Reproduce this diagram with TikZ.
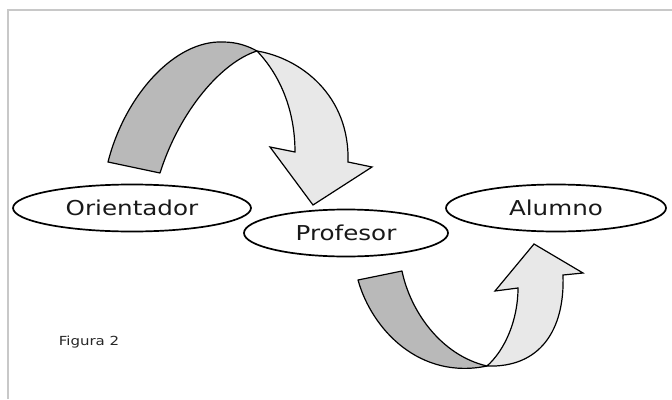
\documentclass[tikz,border=0pt]{standalone}
\usepackage{fontspec}
\setmainfont{DejaVu Sans}
\usepackage{graphicx}
\usetikzlibrary{shapes.geometric}
\definecolor{backside}{RGB}{185,185,185}
\definecolor{frontside}{RGB}{232,232,232}
\definecolor{framegray}{RGB}{200,200,200}
\newcommand{\widetext}[1]{\scalebox{1.2}[1]{#1}}
\tikzset{
  role/.style    = {shape=ellipse, draw, line width=1.7pt,
                    inner sep=0pt, text=black!90,
                    font=\fontsize{20.5}{21}\selectfont},
  backband/.style  = {draw, line width=1.2pt, fill=backside, line join=round},
  frontband/.style = {draw, line width=1.2pt, fill=frontside, line join=miter}
}

\begin{document}
\begin{tikzpicture}[x=1pt, y=-1pt]
  \useasboundingbox (0,0) rectangle (672,399);
  \draw [framegray, line width=1.5pt] (8,399) -- (8,10) -- (672,10);

  \node [role, minimum width=238pt, minimum height=47pt] (orientador) at (132,208) {\widetext{Orientador}};
  \node [role, minimum width=204pt, minimum height=47pt] (profesor) at (346,233) {\widetext{Profesor}};
  \node [role, minimum width=220pt, minimum height=47pt] (alumno) at (556,208) {\widetext{Alumno}};

  % upper ribbon arrow
  \draw [backband] (108,162) .. controls (125,95) and (175,40) .. (223,42)
    .. controls (237,42) and (248,46) .. (257,51)
    .. controls (222,62) and (180,110) .. (160,173) -- cycle;
  \draw [frontband] (257,51) .. controls (300,58) and (350,95) .. (348,162)
    -- (372,167) -- (313,205) -- (270,147) -- (295,152)
    .. controls (295,110) and (280,75) .. (257,51) -- cycle;

  % lower ribbon arrow
  \draw [backband] (358,280) .. controls (372,330) and (420,380) .. (487,366)
    .. controls (440,355) and (410,310) .. (402,271) -- cycle;
  \draw [frontband] (487,366) .. controls (540,368) and (565,330) .. (563,275)
    -- (583,273) -- (534,244) -- (495,291) -- (518,288)
    .. controls (518,320) and (505,350) .. (487,366) -- cycle;

  \node [text=black!85, font=\fontsize{12.5}{13}\selectfont] (figura) at (89,342) {\widetext{Figura 2}};
\end{tikzpicture}
\end{document}
